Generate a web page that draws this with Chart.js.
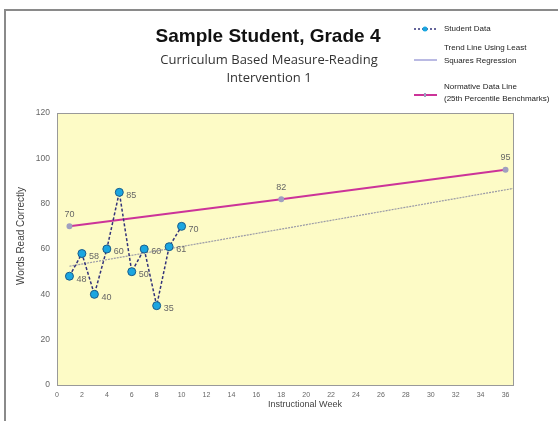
<!DOCTYPE html>
<html>
<head>
<meta charset="utf-8">
<script src="https://cdn.jsdelivr.net/npm/chart.js@4"></script>
<style>
html,body{margin:0;padding:0;background:#fff;}
#wrap{position:relative;width:558px;height:421px;}
</style>
</head>
<body>
<div id="wrap"><canvas id="cbmChart" width="558" height="421"></canvas></div>
<script>
// CBM-READING CHART DATA
const weeks = [1,2,3,4,5,6,7,8,9,10];
const wordsRead = [48,58,40,60,85,50,60,35,61,70];
const trendWeeks = [1,36.6];
const trendValues = [52.4,86.7];
const normWeeks = [1,18,36];
const normValues = [70,82,95];
const xTicks = [0,2,4,6,8,10,12,14,16,18,20,22,24,26,28,30,32,34,36];
const yTicks = [0,20,40,60,80,100,120];

const toPts = (xs, ys) => xs.map((x,i)=>({x:x,y:ys[i]}));

// yellow plot background + frame + titles + legend + value labels
const decor = {
id:"decor",
beforeDraw(chart){
const c = chart.ctx, a = chart.chartArea;
c.save();
c.fillStyle = "#fdfbc6";
c.fillRect(a.left,a.top,a.right-a.left,a.bottom-a.top);
c.strokeStyle = "#8a8a8a";
c.lineWidth = 2;
c.beginPath();
c.moveTo(5,421); c.lineTo(5,10); c.lineTo(558,10);
c.stroke();
c.restore();
},
afterDatasetsDraw(chart){
const c = chart.ctx, a = chart.chartArea;
c.save();
// plot border
c.strokeStyle = "#999";
c.lineWidth = 1;
c.strokeRect(a.left+0.5,a.top+0.5,a.right-a.left,a.bottom-a.top);

// value labels
c.fillStyle = "#666";
c.font = "9px 'Liberation Sans', Arial, sans-serif";
c.textBaseline = "middle";
c.textAlign = "left";
chart.getDatasetMeta(0).data.forEach((p,i)=>{
c.fillText(String(wordsRead[i]), p.x+7, p.y+3);
});
c.textAlign = "center";
chart.getDatasetMeta(2).data.forEach((p,i)=>{
c.fillText(String(normValues[i]), p.x, p.y-12);
});

// axis titles
c.fillStyle = "#444";
c.font = "9px 'Liberation Sans', Arial, sans-serif";
c.fillText("Instructional Week", 305, 405);
c.save();
c.translate(21,236);
c.rotate(-Math.PI/2);
c.font = "10px 'Liberation Sans', Arial, sans-serif";
c.fillText("Words Read Correctly", 0, 0);
c.restore();

// titles
c.fillStyle = "#111";
c.font = "bold 19px 'Liberation Sans', Arial, sans-serif";
c.fillText("Sample Student, Grade 4", 268, 37);
c.fillStyle = "#333";
c.font = "13px 'Open Sans', 'Liberation Sans', sans-serif";
c.fillText("Curriculum Based Measure-Reading", 269, 60);
c.fillText("Intervention 1", 269, 78);

// legend
c.textAlign = "left";
c.fillStyle = "#222";
c.font = "8px 'Liberation Sans', Arial, sans-serif";
c.fillText("Student Data", 444, 29);
c.fillText("Trend Line Using Least", 444, 48);
c.fillText("Squares Regression", 444, 61);
c.fillText("Normative Data Line", 444, 87);
c.fillText("(25th Percentile Benchmarks)", 444, 99);

c.strokeStyle = "#33337a";
c.lineWidth = 1.5;
c.setLineDash([2,2]);
c.beginPath(); c.moveTo(414,29); c.lineTo(437,29); c.stroke();
c.setLineDash([]);
c.fillStyle = "#1aa6e0";
c.beginPath(); c.arc(425,29,2.5,0,Math.PI*2); c.fill();

c.strokeStyle = "#8c8cd0";
c.lineWidth = 1.2;
c.beginPath(); c.moveTo(414,60); c.lineTo(437,60); c.stroke();

c.strokeStyle = "#cc3399";
c.lineWidth = 2;
c.beginPath(); c.moveTo(414,95); c.lineTo(437,95); c.stroke();
c.fillStyle = "#a0a0c0";
c.fillRect(424,93,2,4);
c.restore();
}
};

const ctx = document.getElementById("cbmChart").getContext("2d");
const cbmChart = new Chart(ctx,{
type:"scatter",
data:{
datasets:[
{
label:"Student Data",
data:toPts(weeks,wordsRead),
showLine:true,
borderColor:"#33337a",
borderWidth:1.5,
borderDash:[3,2],
pointRadius:4,
pointBackgroundColor:"#1aa6e0",
pointBorderColor:"#1a5c8a",
pointBorderWidth:1,
order:1
},
{
label:"Trend Line Using Least Squares Regression",
data:toPts(trendWeeks,trendValues),
showLine:true,
borderColor:"#9a9aa6",
borderWidth:1.2,
borderDash:[2,1],
pointRadius:0,
order:3
},
{
label:"Normative Data Line (25th Percentile Benchmarks)",
data:toPts(normWeeks,normValues),
showLine:true,
borderColor:"#cc3399",
borderWidth:2,
pointRadius:2,
pointBackgroundColor:"#a0a0c0",
pointBorderColor:"#a0a0c0",
order:2
}
]
},
options:{
responsive:false,
animation:false,
layout:{padding:{left:0,top:113,right:45,bottom:0}},
plugins:{
legend:{display:false},
tooltip:{enabled:false}
},
scales:{
x:{
type:"linear",
min:0,
max:36.6,
afterFit(s){ s.height = 36; },
afterBuildTicks(s){ s.ticks = xTicks.map(v=>({value:v})); },
grid:{display:false,drawTicks:true,tickLength:4,tickColor:"#777"},
border:{display:true,color:"#777"},
ticks:{color:"#666",font:{size:7,family:"'Liberation Sans', Arial, sans-serif"},padding:2,maxRotation:0,autoSkip:false},
title:{display:false}
},
y:{
min:0,
max:120,
afterFit(s){ s.width = 57; },
afterBuildTicks(s){ s.ticks = yTicks.map(v=>({value:v})); },
grid:{display:false,drawTicks:true,tickLength:4,tickColor:"#777"},
border:{display:true,color:"#777"},
ticks:{color:"#666",font:{size:8.5,family:"'Liberation Sans', Arial, sans-serif"},padding:3},
title:{display:false}
}
}
},
plugins:[decor]
});
</script>
</body>
</html>
